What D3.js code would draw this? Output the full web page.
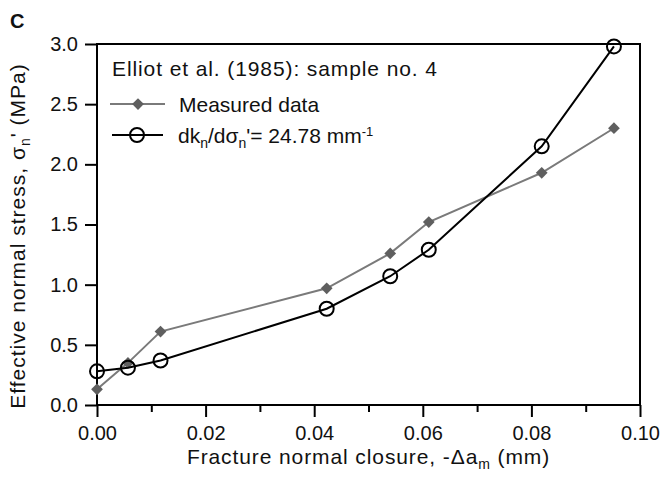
<!DOCTYPE html>
<html lang="en">
<head>
<meta charset="UTF-8">
<title>Elliot et al. sample 4</title>
<script src="https://d3js.org/d3.v7.min.js"></script>
<style>
  body { margin: 0; background: #fff; }
  text { font-family: "Liberation Sans", Arial, sans-serif; fill: #111; }
  .axis path, .axis line { stroke: #000; stroke-width: 2; }
  .axis text { font-size: 20px; }
</style>
</head>
<body>
<div id="chart"></div>
<script>
// closure (mm), shared by both series
var closure = [0.0, 0.0057, 0.0117, 0.0423, 0.054, 0.0611, 0.0819, 0.0952];
var measured = [0.13, 0.35, 0.61, 0.97, 1.26, 1.52, 1.93, 2.30];
var model = [0.28, 0.31, 0.37, 0.80, 1.07, 1.29, 2.15, 2.98];
var xTicks = [0, 0.02, 0.04, 0.06, 0.08, 0.10];
var xMinor = [0.01, 0.03, 0.05, 0.07, 0.09];
var yTicks = [0, 0.5, 1.0, 1.5, 2.0, 2.5, 3.0];

var width = 661, height = 482;
var margin = {left: 97, right: 21, top: 44, bottom: 77};

var svg = d3.select("#chart").append("svg")
    .attr("width", width)
    .attr("height", height);

var x = d3.scaleLinear().domain([0, 0.1]).range([margin.left, width - margin.right]);
var y = d3.scaleLinear().domain([0, 3]).range([height - margin.bottom, margin.top]);

// frame
svg.append("rect")
    .attr("x", x(0)).attr("y", y(3))
    .attr("width", x(0.1) - x(0)).attr("height", y(0) - y(3))
    .attr("fill", "none").attr("stroke", "#000").attr("stroke-width", 2);

var xAxis = svg.append("g").attr("class", "axis")
    .attr("transform", "translate(0," + y(0) + ")")
    .call(d3.axisBottom(x).tickValues(xTicks).tickSize(12).tickPadding(9)
      .tickFormat(d3.format(".2f")));
xAxis.select(".domain").remove();

svg.append("g").attr("class", "axis")
    .attr("transform", "translate(0," + y(0) + ")")
    .call(d3.axisBottom(x).tickValues(xMinor).tickSize(7).tickFormat(""))
    .select(".domain").remove();

var yAxis = svg.append("g").attr("class", "axis")
    .attr("transform", "translate(" + x(0) + ",0)")
    .call(d3.axisLeft(y).tickValues(yTicks).tickSize(12).tickPadding(7)
      .tickFormat(d3.format(".1f")));
yAxis.select(".domain").remove();

var pts = closure.map(function(c, i) { return {x: c, m: measured[i], k: model[i]}; });

var lineM = d3.line().x(function(d) { return x(d.x); }).y(function(d) { return y(d.m); });
var lineK = d3.line().x(function(d) { return x(d.x); }).y(function(d) { return y(d.k); });

var diamond = d3.symbol().type(d3.symbolDiamond2).size(88);

svg.append("path").datum(pts)
    .attr("d", lineM).attr("fill", "none").attr("stroke", "#7a7a7a").attr("stroke-width", 2);
svg.selectAll(".dia").data(pts).enter().append("path")
    .attr("class", "dia")
    .attr("d", diamond)
    .attr("transform", function(d) { return "translate(" + x(d.x) + "," + y(d.m) + ")"; })
    .attr("fill", "#5f5f5f");

svg.append("path").datum(pts)
    .attr("d", lineK).attr("fill", "none").attr("stroke", "#000").attr("stroke-width", 2);
svg.selectAll(".circ").data(pts).enter().append("circle")
    .attr("class", "circ")
    .attr("cx", function(d) { return x(d.x); })
    .attr("cy", function(d) { return y(d.k); })
    .attr("r", 7)
    .attr("fill", "none").attr("stroke", "#000").attr("stroke-width", 2);

// legend
svg.append("text").attr("x", 112).attr("y", 76).attr("font-size", 21)
    .attr("textLength", 325)
    .text("Elliot et al. (1985): sample no. 4");

svg.append("line").attr("x1", 110).attr("x2", 165).attr("y1", 104).attr("y2", 104)
    .attr("stroke", "#7a7a7a").attr("stroke-width", 2);
svg.append("path").attr("d", diamond).attr("transform", "translate(138,104)").attr("fill", "#5f5f5f");
svg.append("text").attr("x", 179).attr("y", 112).attr("font-size", 21).text("Measured data");

svg.append("line").attr("x1", 112).attr("x2", 163).attr("y1", 135).attr("y2", 135)
    .attr("stroke", "#000").attr("stroke-width", 2);
svg.append("circle").attr("cx", 137).attr("cy", 135).attr("r", 7)
    .attr("fill", "none").attr("stroke", "#000").attr("stroke-width", 2);
var t2 = svg.append("text").attr("x", 178).attr("y", 143).attr("font-size", 21);
t2.append("tspan").text("dk");
t2.append("tspan").attr("font-size", 14).attr("dy", 5).text("n");
t2.append("tspan").attr("dy", -5).text("/d\u03c3");
t2.append("tspan").attr("font-size", 14).attr("dy", 5).text("n");
t2.append("tspan").attr("dy", -5).text("'= 24.78 mm");
t2.append("tspan").attr("font-size", 13).attr("dy", -7).text("-1");

// axis titles
var xl = svg.append("text").attr("x", (x(0) + x(0.1)) / 2).attr("y", 464)
    .attr("text-anchor", "middle").attr("font-size", 21).attr("letter-spacing", 0.9);
xl.append("tspan").text("Fracture normal closure, -\u0394a");
xl.append("tspan").attr("font-size", 14).attr("dy", 5).text("m");
xl.append("tspan").attr("dy", -5).text(" (mm)");

var yl = svg.append("text").attr("transform", "translate(25,236) rotate(-90)")
    .attr("text-anchor", "middle").attr("font-size", 21).attr("letter-spacing", 1);
yl.append("tspan").text("Effective normal stress, \u03c3");
yl.append("tspan").attr("font-size", 14).attr("dy", 5).text("n");
yl.append("tspan").attr("dy", -5).text("' (MPa)");

svg.append("text").attr("x", 10).attr("y", 28).attr("font-size", 20)
    .attr("font-weight", "bold").text("C");
</script>
</body>
</html>
